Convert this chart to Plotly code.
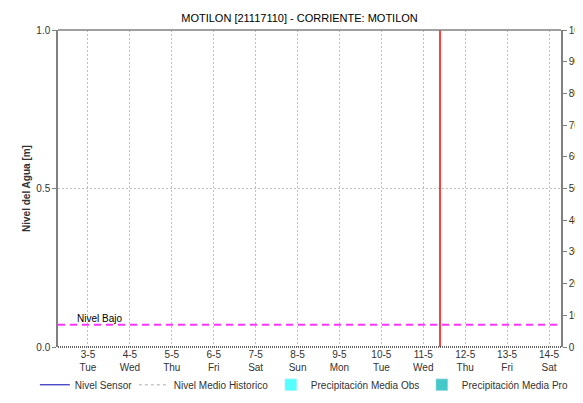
import plotly.graph_objects as go

TITLE = "MOTILON [21117110] - CORRIENTE: MOTILON"
DAY_DATES = ["2022-05-03", "2022-05-04", "2022-05-05", "2022-05-06", "2022-05-07", "2022-05-08",
             "2022-05-09", "2022-05-10", "2022-05-11", "2022-05-12", "2022-05-13", "2022-05-14"]
DAY_LABELS = ["3-5<br>Tue", "4-5<br>Wed", "5-5<br>Thu", "6-5<br>Fri", "7-5<br>Sat", "8-5<br>Sun",
              "9-5<br>Mon", "10-5<br>Tue", "11-5<br>Wed", "12-5<br>Thu", "13-5<br>Fri", "14-5<br>Sat"]
X_RANGE = ["2022-05-02 06:50", "2022-05-14 06:52"]
NOW = "2022-05-11 09:35"
NIVEL_BAJO = 0.07
NIVEL_SENSOR = [None] * len(DAY_DATES)
NIVEL_MEDIO = [None] * len(DAY_DATES)
PRECIP_OBS = [None] * len(DAY_DATES)
PRECIP_PRO = [None] * len(DAY_DATES)

FONT = "Liberation Sans, Arial, sans-serif"

fig = go.Figure()
fig.add_trace(go.Scatter(x=DAY_DATES, y=NIVEL_SENSOR, name="Nivel Sensor", mode="lines",
                         line=dict(color="#0000b0", width=1), legendwidth=54))
fig.add_trace(go.Scatter(x=DAY_DATES, y=NIVEL_MEDIO, name="Nivel Medio Historico", mode="lines",
                         line=dict(color="#c8c8c8", width=1.5, dash="3px,3px"), legendwidth=92))
fig.add_trace(go.Bar(x=DAY_DATES, y=PRECIP_OBS, name="Precipitación Media Obs",
                     marker_color="#55ffff", yaxis="y2", legendwidth=106))
fig.add_trace(go.Bar(x=DAY_DATES, y=PRECIP_PRO, name="Precipitación Media Pro",
                     marker_color="#44c8c8", yaxis="y2", legendwidth=104))

fig.add_shape(type="line", xref="paper", yref="y", x0=0, x1=1, y0=NIVEL_BAJO, y1=NIVEL_BAJO,
              line=dict(color="#ff33ff", width=2, dash="7px,5px"))
fig.add_annotation(xref="paper", yref="y", x=0, y=NIVEL_BAJO, text="Nivel Bajo", showarrow=False,
                   xanchor="left", yanchor="bottom", xshift=17, yshift=-1,
                   font=dict(size=10, color="#000000", family=FONT))
fig.add_shape(type="line", xref="x", yref="paper", x0=NOW, x1=NOW, y0=0, y1=1,
              line=dict(color="#ff0000", width=1.5))
# top frame and dotted bottom
fig.add_shape(type="line", xref="paper", yref="paper", x0=0, x1=1, y0=1, y1=1,
              line=dict(color="#808080", width=1.5))
fig.add_shape(type="line", xref="paper", yref="paper", x0=0, x1=1, y0=0, y1=0,
              line=dict(color="#333333", width=1.5, dash="1px,1px"))
fig.add_annotation(xref="paper", yref="paper", x=1, y=0.38, xshift=36, text="<b>Precipitación [mm]</b>",
                   showarrow=False, textangle=90, font=dict(size=10, color="#333333", family=FONT))

fig.update_layout(
    width=583, height=403,
    margin=dict(l=50, r=30, t=22, b=55),
    paper_bgcolor="white", plot_bgcolor="white",
    font=dict(family=FONT, size=10, color="#333333"),
    title=dict(text=TITLE, x=0.5, xanchor="center", y=0.985, yanchor="top",
               font=dict(size=11, color="#000000", family=FONT)),
    showlegend=True,
    legend=dict(orientation="h", x=-0.046, xanchor="left", y=-0.165, yanchor="bottom",
                font=dict(size=10, color="#333333", family=FONT), itemwidth=30,
                tracegroupgap=0, bgcolor="rgba(0,0,0,0)", borderwidth=0),
    barmode="group",
    xaxis=dict(type="date", range=X_RANGE, tickvals=DAY_DATES, ticktext=DAY_LABELS,
               showgrid=True, gridcolor="#c0c0c0", griddash="2px,2px", gridwidth=1,
               showline=False, ticks="", zeroline=False, automargin=False,
               tickfont=dict(size=10, color="#333333", family=FONT)),
    yaxis=dict(range=[0, 1], tickvals=[0, 0.5, 1.0], tickformat=".1f",
               showgrid=True, gridcolor="#c0c0c0", griddash="2px,2px",
               showline=True, linecolor="#808080", linewidth=1.5, automargin=False,
               ticks="outside", ticklen=4, tickcolor="#808080", zeroline=False,
               title=dict(text="<b>Nivel del Agua [m]</b>", standoff=4,
                          font=dict(size=10, color="#333333", family=FONT))),
    yaxis2=dict(range=[0, 100], dtick=10, overlaying="y", side="right",
                showgrid=False, showline=True, linecolor="#808080", linewidth=1.5,
                ticks="outside", ticklen=4, tickcolor="#808080", zeroline=False, automargin=False),
)

fig.write_html("out.html")
